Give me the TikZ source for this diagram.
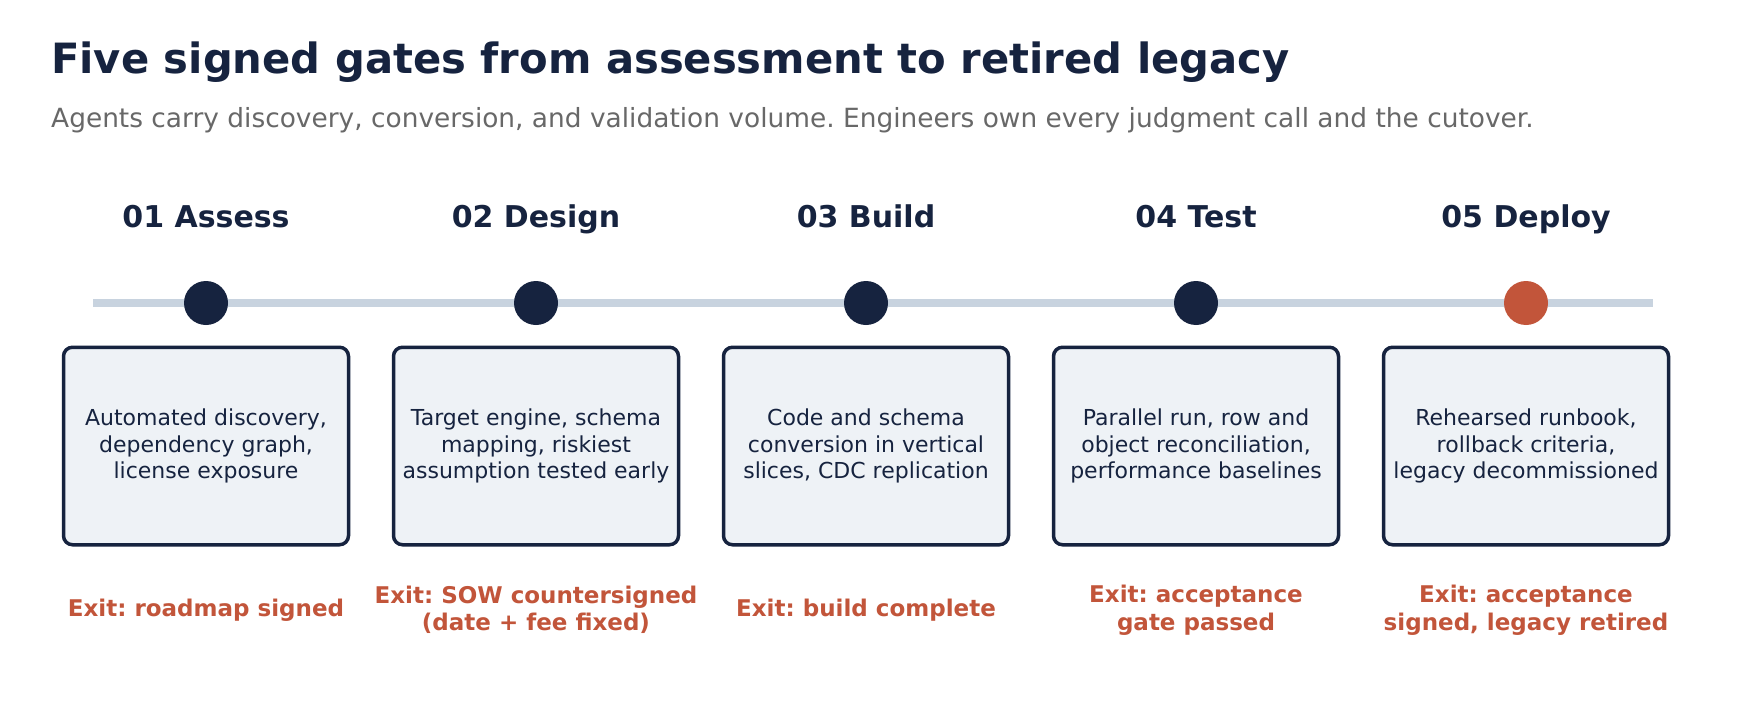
\documentclass[tikz,border=0pt]{standalone}
\usepackage{fontspec}
\setmainfont{DejaVu Sans}
\frenchspacing

\definecolor{navy}{RGB}{22,35,63}
\definecolor{railgray}{RGB}{200,211,223}
\definecolor{cardfill}{RGB}{238,242,246}
\definecolor{exitred}{RGB}{194,85,58}
\definecolor{subgray}{RGB}{104,104,104}

\begin{document}
\begin{tikzpicture}[x=1pt,y=-1pt,every node/.style={inner sep=0pt},
    heading/.style={font=\fontsize{30}{36}\selectfont\bfseries,text=navy},
    gate/.style={circle,fill=navy,minimum size=44pt},
    card/.style={draw=navy,line width=3.5pt,fill=cardfill,rounded corners=9pt,
        minimum width=285pt,minimum height=197.5pt,align=center,
        font=\fontsize{22}{26.4}\selectfont,text=navy},
    exitnote/.style={font=\fontsize{23}{27.5}\selectfont\bfseries,text=exitred,align=center}]
    \useasboundingbox[fill=white] (0,0) rectangle (1745,717);

    % Title and subtitle
    \node[anchor=base west,font=\fontsize{41.7}{48}\selectfont\bfseries,text=navy] (title) at (51,73.5)
        {Five signed gates from assessment to retired legacy};
    \node[anchor=base west,font=\fontsize{26.4}{30}\selectfont,text=subgray] (subtitle) at (51,127.5)
        {Agents carry discovery, conversion, and validation volume. Engineers own every judgment call and the cutover.};

    % The rail
    \coordinate (railstart) at (93,303);
    \coordinate (railend) at (1653,303);
    \draw[railgray,line width=8pt] (railstart) -- (railend);

    % Stage headings
    \node[heading,anchor=base] (head1) at (206,227) {01 Assess};
    \node[heading,anchor=base] (head2) at (536,227) {02 Design};
    \node[heading,anchor=base] (head3) at (866,227) {03 Build};
    \node[heading,anchor=base] (head4) at (1196,227) {04 Test};
    \node[heading,anchor=base] (head5) at (1526,227) {05 Deploy};

    % Gates on the rail, the last one in red
    \node[gate] (gate1) at (206,303) {};
    \node[gate] (gate2) at (536,303) {};
    \node[gate] (gate3) at (866,303) {};
    \node[gate] (gate4) at (1196,303) {};
    \node[gate,fill=exitred] (gate5) at (1526,303) {};

    % Work cards
    \node[card] (card1) at (206,446) {Automated discovery,\\ dependency graph,\\ license exposure};
    \node[card] (card2) at (536,446) {Target engine, schema\\ mapping, riskiest\\ assumption tested early};
    \node[card] (card3) at (866,446) {Code and schema\\ conversion in vertical\\ slices, CDC replication};
    \node[card] (card4) at (1196,446) {Parallel run, row and\\ object reconciliation,\\ performance baselines};
    \node[card] (card5) at (1526,446) {Rehearsed runbook,\\ rollback criteria,\\ legacy decommissioned};

    % Exit criteria
    \node[exitnote] (exit1) at (206,610) {Exit: roadmap signed};
    \node[exitnote] (exit2) at (536,610) {Exit: SOW countersigned\\ (date + fee fixed)};
    \node[exitnote] (exit3) at (866,610) {Exit: build complete};
    \node[exitnote] (exit4) at (1196,610) {Exit: acceptance\\ gate passed};
    \node[exitnote] (exit5) at (1526,610) {Exit: acceptance\\ signed, legacy retired};
\end{tikzpicture}
\end{document}
